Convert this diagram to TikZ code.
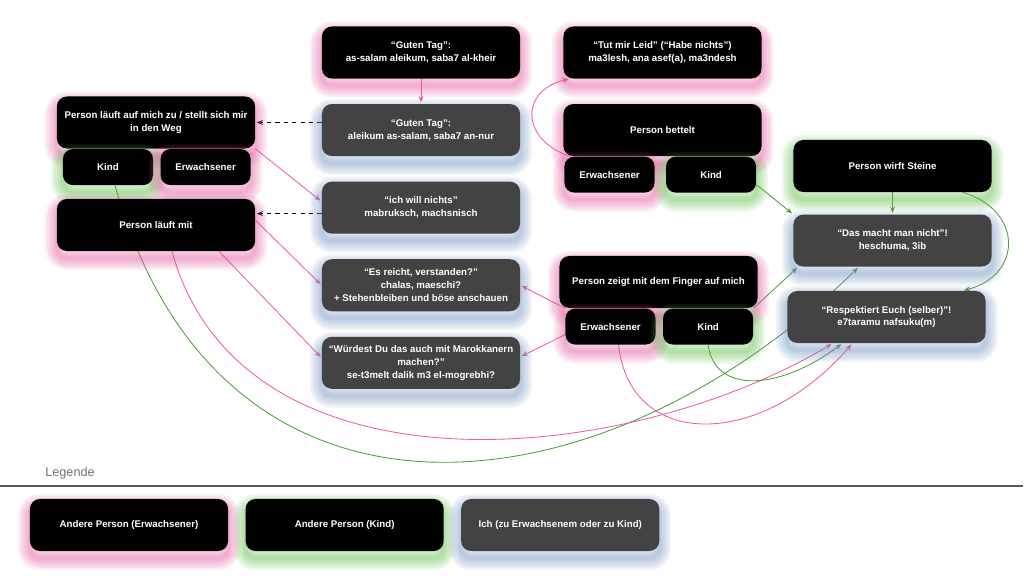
\documentclass[tikz,border=0pt]{standalone}
\usepackage{fontspec}
\setmainfont{Liberation Sans}
\usepackage{tikz}
\usetikzlibrary{arrows.meta,positioning,backgrounds}
\definecolor{adultpink}{HTML}{E2559C}
\definecolor{kidgreen}{HTML}{5DBB45}
\definecolor{meblue}{HTML}{6F8FBF}
\definecolor{megray}{HTML}{434343}
\definecolor{pinkline}{HTML}{EE5BA4}
\definecolor{greenline}{HTML}{4E9C3C}
\tikzset{
    glowring/.style args={#1/#2}{
           preaction={draw=#1, draw opacity=.1, line width=#2,
                      transform canvas={yshift=-5pt}}
           },
    glow/.style={
           glowring=#1/17pt,
           glowring=#1/14pt,
           glowring=#1/11pt,
           glowring=#1/8pt,
           glowring=#1/5pt,
           glowring=#1/2.5pt
           },
    box/.style={
           rectangle,
           rounded corners=7pt,
           minimum width=4.95cm,
           minimum height=1.3cm,
           align=center,
           text=white,
           font=\fontsize{6.9}{9.2}\selectfont\bfseries
           },
    adult/.style={box, fill=black, glow=adultpink},
    kid/.style={box, fill=black, glow=kidgreen},
    me/.style={box, fill=megray, glow=meblue},
    sub/.style={
           minimum width=2.25cm,
           minimum height=0.9cm
           },
    adultedge/.style={draw=pinkline, line width=0.6pt},
    kidedge/.style={draw=greenline, line width=0.6pt},
    hint/.style={draw=black, dashed, line width=0.9pt}
}

\begin{document}
\begin{tikzpicture}[x=0.025cm, y=-0.025cm, >={Stealth[length=4.5pt,width=3.5pt]}, shorten >=1pt, node distance=0.625cm]
   \useasboundingbox (0,0) rectangle (1024,576);

   % middle column: what I say
   \node[adult] (gruss) at (421,52.5) {“Guten Tag”:\\as-salam aleikum, saba7 al-kheir};
   \node[me, below=of gruss] (antwort) {“Guten Tag”:\\aleikum as-salam, saba7 an-nur};
   \node[me, below=of antwort] (nichts) {“ich will nichts”\\mabruksch, machsnisch};
   \node[me, below=of nichts] (reicht) {“Es reicht, verstanden?”\\chalas, maeschi?\\+ Stehenbleiben und böse anschauen};
   \node[me, below=of reicht] (maroc) {“Würdest Du das auch mit Marokkanern\\machen?”\\se-t3melt dalik m3 el-mogrebhi?};

   % left column
   \node[adult] (zu) at (156,122.5) {Person läuft auf mich zu / stellt sich mir\\in den Weg};
   \node[kid, sub, below right=0pt and 0.15cm of zu.south west] (zukind) {Kind};
   \node[adult, sub, right=0.175cm of zukind] (zuerw) {Erwachsener};
   \node[adult] (mit) at (156,225) {Person läuft mit};

   % begging / pointing
   \node[adult] (leid) at (662.5,52.5) {“Tut mir Leid” (“Habe nichts”)\\ma3lesh, ana asef(a), ma3ndesh};
   \node[adult, below=of leid] (bettelt) {Person bettelt};
   \node[adult, sub, below right=0pt and 0.025cm of bettelt.south west] (bettelterw) {Erwachsener};
   \node[kid, sub, right=0.275cm of bettelterw] (bettelkind) {Kind};
   \node[adult] (zeigt) at (658.5,282) {Person zeigt mit dem Finger auf mich};
   \node[adult, sub, below right=0pt and 0.15cm of zeigt.south west] (zeigterw) {Erwachsener};
   \node[kid, sub, right=0.175cm of zeigterw] (zeigtkind) {Kind};

   % right column
   \node[kid] (steine) at (892.5,166) {Person wirft Steine};
   \node[me, below=0.55cm of steine] (macht) {“Das macht man nicht”!\\heschuma, 3ib};
   \node[me] (respekt) at (886.5,317) {“Respektiert Euch (selber)”!\\e7taramu nafsuku(m)};

   % legend
   \node[text=black!55, font=\fontsize{9}{11}\selectfont] (legende) at (70,473) {Legende};
   \draw[draw=black!65, line width=1pt] (0,486) -- (1024,486);
   \node[adult] (lerw) at (129,525) {Andere Person (Erwachsener)};
   \node[kid, right=0.425cm of lerw] (lkind) {Andere Person (Kind)};
   \node[me, right=0.425cm of lkind] (lich) {Ich (zu Erwachsenem oder zu Kind)};

   \coordinate (nichtsaus) at ([yshift=-0.15cm]nichts.west);

   \begin{pgfonlayer}{background}
   \path[->]
    (gruss) edge[adultedge] (antwort)
    (antwort.west |- zu.east) edge[hint] (zu.east)
    (nichtsaus) edge[hint] (nichtsaus -| mit.east)
    (zu.south east) edge[adultedge] ([yshift=0.15cm]nichts.west)
    ([yshift=0.12cm]mit.east) edge[adultedge] (reicht.west)
    ([xshift=1.575cm]mit.south) edge[adultedge] ([yshift=0.12cm]maroc.west)
    ([yshift=-0.25cm]bettelkind.east) edge[kidedge] (macht.north west)
    (steine) edge[kidedge] (macht)
    (zeigterw.north west) edge[adultedge] (reicht.east)
    ([yshift=-0.2cm]zeigterw.west) edge[adultedge] ([yshift=0.15cm]maroc.east)
    (zeigtkind.north east) edge[kidedge] ([xshift=0.125cm]macht.south west);
   \draw[->, adultedge] ([xshift=0.15cm]bettelterw.north west) .. controls (520,140) and (520,90) .. ([xshift=0.175cm]leid.south west);
   \draw[->, kidedge] ([xshift=1.75cm]steine.south) .. controls (1023,210) and (1023,275) .. ([xshift=1.9cm]respekt.north);
   \draw[->, kidedge] ([xshift=0.175cm]zukind.south) .. controls (220,560) and (600,520) .. ([xshift=-0.84cm]macht.south);
   \draw[->, adultedge] ([xshift=0.4cm]mit.south) .. controls (240,500) and (620,470) .. ([xshift=-1.34cm]respekt.south);
   \draw[->, kidedge] (zeigtkind.south) .. controls (715,395) and (780,390) .. ([xshift=-1.1cm]respekt.south);
   \draw[->, adultedge] ([xshift=0.2cm]zeigterw.south) .. controls (630,450) and (760,450) .. ([xshift=-0.85cm]respekt.south);
   \end{pgfonlayer}
\end{tikzpicture}
\end{document}
